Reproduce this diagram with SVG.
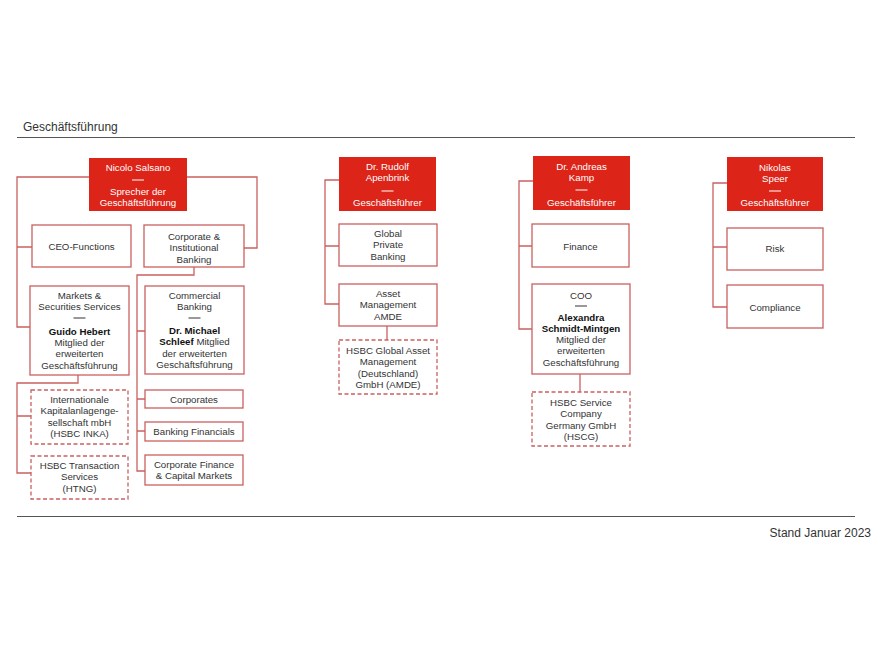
<svg xmlns="http://www.w3.org/2000/svg" width="880" height="650" viewBox="0 0 880 650">
<style>
text{font-family:"Liberation Sans",Arial,sans-serif;font-size:9.7px;fill:#333;text-anchor:middle}
.b{font-weight:bold;fill:#111}
.w{fill:#fff}
.red{fill:#dc2418;stroke:none}
.box{fill:#fff;stroke:#c9605f;stroke-width:1.3}
.dbox{fill:#fff;stroke:#c9605f;stroke-width:1.3;stroke-dasharray:4 2.5}
.con{fill:none;stroke:#c9605f;stroke-width:1.3}
.dw{stroke:#fff;stroke-width:1}
.dk{stroke:#333;stroke-width:1}
.hd{font-size:12px;text-anchor:start}
</style>
<rect width="880" height="650" fill="#fff"/>
<text class="hd" x="23" y="131">Geschäftsführung</text>
<line x1="17" y1="137.5" x2="855" y2="137.5" stroke="#555" stroke-width="1"/>
<line x1="17" y1="516.5" x2="855" y2="516.5" stroke="#555" stroke-width="1"/>
<text x="871" y="537" style="font-size:12px;text-anchor:end">Stand Januar 2023</text>

<g id="connectors">
<path class="con" d="M89,177 H17 V327 H30 M17,247 H32"/>
<path class="con" d="M187,177 H257 V248 H244"/>
<path class="con" d="M194,267 V275 H137 V471 H145 M137,331 H145 M137,399 H145 M137,431 H145"/>
<path class="con" d="M78,375 V383 H17 V473 H31 M17,416 H31"/>
<path class="con" d="M339,180 H325 V304 H339 M325,246 H339"/>
<path class="con" d="M387,326 V340"/>
<path class="con" d="M533,181 H519 V329 H532 M519,246 H532"/>
<path class="con" d="M580,374 V392"/>
<path class="con" d="M727,183 H713 V307 H727 M713,247 H727"/>
</g>

<g id="salsano">
<rect class="red" x="89" y="158" width="98" height="53"/>
<text class="w" x="138" y="170.5">Nicolo Salsano</text>
<line class="dw" x1="132" y1="180" x2="144" y2="180"/>
<text class="w" x="138" y="194.5">Sprecher der</text>
<text class="w" x="138" y="205.5">Geschäftsführung</text>
</g>
<g id="ceo">
<rect class="box" x="32" y="225" width="99" height="42"/>
<text x="81.5" y="249.5">CEO-Functions</text>
</g>
<g id="cib">
<rect class="box" x="144" y="225" width="100" height="42"/>
<text x="194" y="239.5">Corporate &amp;</text>
<text x="194" y="251">Institutional</text>
<text x="194" y="262.5">Banking</text>
</g>
<g id="markets">
<rect class="box" x="30" y="286" width="99" height="89"/>
<text x="79.5" y="298.5">Markets &amp;</text>
<text x="79.5" y="309.5">Securities Services</text>
<line class="dk" x1="73.5" y1="318" x2="85.5" y2="318"/>
<text class="b" x="79.5" y="334.5">Guido Hebert</text>
<text x="79.5" y="345.5">Mitglied der</text>
<text x="79.5" y="357">erweiterten</text>
<text x="79.5" y="368.5">Geschäftsführung</text>
</g>
<g id="commercial">
<rect class="box" x="145" y="286" width="99" height="88"/>
<text x="194.5" y="298.5">Commercial</text>
<text x="194.5" y="309.5">Banking</text>
<line class="dk" x1="188.5" y1="318" x2="200.5" y2="318"/>
<text class="b" x="194.5" y="334">Dr. Michael</text>
<text x="194.5" y="345"><tspan class="b">Schleef</tspan> Mitglied</text>
<text x="194.5" y="356.5">der erweiterten</text>
<text x="194.5" y="368">Geschäftsführung</text>
</g>
<g id="corporates">
<rect class="box" x="145" y="390" width="98" height="18"/>
<text x="194" y="402.5">Corporates</text>
</g>
<g id="bankingfin">
<rect class="box" x="145" y="422" width="98" height="19"/>
<text x="194" y="434.5">Banking Financials</text>
</g>
<g id="cfcm">
<rect class="box" x="145" y="455" width="98" height="30"/>
<text x="194" y="467.5">Corporate Finance</text>
<text x="194" y="479">&amp; Capital Markets</text>
</g>
<g id="inka">
<rect class="dbox" x="31" y="390" width="97" height="54"/>
<text x="79.5" y="402.5">Internationale</text>
<text x="79.5" y="414">Kapitalanlagenge-</text>
<text x="79.5" y="425.5">sellschaft mbH</text>
<text x="79.5" y="437">(HSBC INKA)</text>
</g>
<g id="htng">
<rect class="dbox" x="31" y="456" width="97" height="43"/>
<text x="79.5" y="468.5">HSBC Transaction</text>
<text x="79.5" y="480">Services</text>
<text x="79.5" y="491.5">(HTNG)</text>
</g>

<g id="apenbrink">
<rect class="red" x="339" y="157" width="97" height="54"/>
<text class="w" x="387.5" y="169.5">Dr. Rudolf</text>
<text class="w" x="387.5" y="180.5">Apenbrink</text>
<line class="dw" x1="381.5" y1="191" x2="393.5" y2="191"/>
<text class="w" x="387.5" y="205.5">Geschäftsführer</text>
</g>
<g id="gpb">
<rect class="box" x="339" y="224" width="98" height="42"/>
<text x="388" y="236.5">Global</text>
<text x="388" y="248">Private</text>
<text x="388" y="259.5">Banking</text>
</g>
<g id="am">
<rect class="box" x="339" y="284" width="98" height="42"/>
<text x="388" y="296.5">Asset</text>
<text x="388" y="308">Management</text>
<text x="388" y="319.5">AMDE</text>
</g>
<g id="amde">
<rect class="dbox" x="339" y="340" width="98" height="54"/>
<text x="388" y="353.5">HSBC Global Asset</text>
<text x="388" y="365">Management</text>
<text x="388" y="376.5">(Deutschland)</text>
<text x="388" y="388">GmbH (AMDE)</text>
</g>

<g id="kamp">
<rect class="red" x="533" y="156" width="97" height="54"/>
<text class="w" x="581.5" y="169.5">Dr. Andreas</text>
<text class="w" x="581.5" y="180.5">Kamp</text>
<line class="dw" x1="575.5" y1="190" x2="587.5" y2="190"/>
<text class="w" x="581.5" y="205.5">Geschäftsführer</text>
</g>
<g id="finance">
<rect class="box" x="532" y="224" width="97" height="43"/>
<text x="580.5" y="249.5">Finance</text>
</g>
<g id="coo">
<rect class="box" x="532" y="284" width="98" height="90"/>
<text x="581" y="298.5">COO</text>
<line class="dk" x1="575" y1="306" x2="587" y2="306"/>
<text class="b" x="581" y="320.5">Alexandra</text>
<text class="b" x="581" y="331.5">Schmidt-Mintgen</text>
<text x="581" y="342.5">Mitglied der</text>
<text x="581" y="354">erweiterten</text>
<text x="581" y="365.5">Geschäftsführung</text>
</g>
<g id="hscg">
<rect class="dbox" x="532" y="392" width="98" height="54"/>
<text x="581" y="405.5">HSBC Service</text>
<text x="581" y="417">Company</text>
<text x="581" y="428.5">Germany GmbH</text>
<text x="581" y="440">(HSCG)</text>
</g>

<g id="speer">
<rect class="red" x="727" y="157" width="96" height="54"/>
<text class="w" x="775" y="170.5">Nikolas</text>
<text class="w" x="775" y="181.5">Speer</text>
<line class="dw" x1="769" y1="191" x2="781" y2="191"/>
<text class="w" x="775" y="205.5">Geschäftsführer</text>
</g>
<g id="risk">
<rect class="box" x="727" y="228" width="96" height="42"/>
<text x="775" y="251.5">Risk</text>
</g>
<g id="compliance">
<rect class="box" x="727" y="285" width="96" height="43"/>
<text x="775" y="310.5">Compliance</text>
</g>
</svg>
